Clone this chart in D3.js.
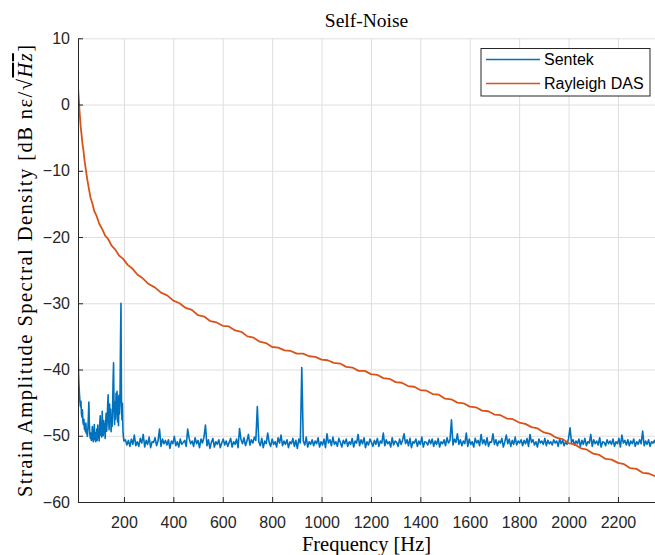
<!DOCTYPE html>
<html>
<head>
<meta charset="utf-8">
<script src="https://cdnjs.cloudflare.com/ajax/libs/d3/7.8.5/d3.min.js"></script>
<style>
body { margin: 0; background: #fff; }
svg { display: block; }
</style>
</head>
<body>
<svg id="chart"></svg>
<script>
// axis ticks
var xTicks = [200, 400, 600, 800, 1000, 1200, 1400, 1600, 1800, 2000, 2200];
var yTicks = [10, 0, -10, -20, -30, -40, -50, -60];

// Sentek, low band: one value every 2 Hz from 14 to 200 Hz
var sentekLowStart = 14, sentekLowStep = 2;
var sentekLowDb = [
  -36.0, -40.5, -42.3, -43.8, -44.9, -45.6, -44.8, -46.7, -47.2, -46.1, -47.9, -48.3, -47.5, -49.0, -48.6, -49.4, -48.1, -49.7, -49.2, -50.1,
  -49.0, -47.3, -44.9, -48.2, -49.8, -50.4, -49.6, -50.7, -50.2, -48.6, -50.5, -50.9, -49.8, -48.3, -50.6, -49.5, -50.9, -50.1, -49.0, -50.7,
  -48.4, -50.3, -49.6, -50.8, -48.1, -47.0, -49.9, -48.4, -50.2, -46.3, -48.8, -50.0, -47.7, -49.5, -48.2, -50.4, -47.9, -46.6, -49.3, -48.0,
  -45.5, -43.8, -47.4, -49.1, -45.2, -47.8, -46.0, -49.4, -47.3, -48.6, -45.9, -41.8, -39.0, -46.2, -48.3, -44.9, -47.5, -43.6, -46.8, -43.3,
  -47.9, -44.2, -48.5, -43.9, -46.7, -44.5, -36.0, -30.0, -44.8, -47.6, -45.1, -49.3, -50.2, -50.8
];

// Sentek, rest: one value every 6 Hz from 206 Hz
var sentekHighStart = 206, sentekHighStep = 6;
var sentekHighDb = [
  -50.6, -51.4, -50.7, -51.6, -50.5, -51.3, -49.9, -51.5,
  -50.9, -51.6, -50.4, -51.1, -49.8, -51.7, -50.7, -51.3, -50.2, -51.8, -50.9, -51.0, -50.3, -51.5, -50.8, -49.0, -51.6, -50.5, -51.2, -50.7,
  -51.4, -50.6, -51.9, -50.8, -51.2, -50.1, -51.5, -50.9, -51.7, -50.5, -51.3, -51.0, -50.7, -51.6, -49.0, -50.4, -51.2, -50.8, -51.6, -50.3,
  -51.2, -50.7, -51.8, -50.5, -51.1, -50.2, -48.4, -51.5, -50.6, -51.9, -51.0, -50.4, -51.7, -50.9, -51.3, -50.6, -51.8, -51.1, -50.5, -51.4,
  -50.8, -51.6, -51.0, -50.4, -51.7, -50.9, -51.3, -50.5, -51.8, -48.9, -50.6, -51.2, -50.3, -51.5, -50.8, -49.8, -51.4, -50.6, -51.1, -50.2,
  -50.7, -45.6, -50.9, -51.5, -50.4, -51.8, -50.8, -51.2, -49.6, -51.0, -51.6, -50.5, -51.3, -50.9, -51.7, -50.3, -51.1, -49.9, -51.5, -50.8,
  -51.3, -50.6, -51.8, -50.9, -51.2, -50.4, -51.6, -50.7, -51.9, -50.5, -51.1, -39.7, -50.8, -51.4, -50.2, -51.7, -50.9, -51.3, -50.6, -51.5,
  -50.8, -51.2, -50.3, -51.7, -50.9, -51.4, -50.5, -51.8, -49.7, -51.1, -50.6, -51.5, -50.2, -51.3, -50.9, -51.6, -50.4, -51.0, -51.7, -50.7,
  -51.2, -50.5, -51.6, -50.9, -51.3, -50.4, -51.7, -50.8, -51.1, -49.8, -51.5, -50.6, -51.2, -50.3, -51.8, -50.9, -51.4, -50.5, -51.0, -51.6,
  -50.7, -51.3, -50.4, -51.6, -50.8, -51.1, -49.6, -51.5, -50.6, -51.2, -50.9, -51.7, -50.3, -51.4, -50.8, -51.0, -51.6, -50.5, -51.3, -50.7,
  -49.7, -51.2, -50.6, -51.5, -50.4, -51.8, -50.9, -51.1, -50.5, -51.6, -50.8, -51.3, -50.2, -51.7, -50.9, -51.0, -51.4, -50.6, -51.2, -50.5,
  -51.6, -50.8, -51.3, -50.4, -51.7, -50.9, -51.2, -50.6, -51.5, -50.3, -51.1, -50.7, -47.6, -51.4, -50.5, -51.0, -49.7, -51.3, -50.6, -51.5,
  -50.8, -51.2, -49.6, -51.6, -50.5, -51.3, -50.9, -51.7, -50.4, -51.1, -50.7, -51.5, -49.8, -51.2, -50.6, -51.4, -50.3, -51.6, -50.9, -51.0,
  -49.7, -51.3, -50.6, -51.5, -50.8, -51.1, -50.4, -51.7, -50.9, -49.9, -51.2, -50.5, -51.6, -50.7, -51.3, -50.2, -51.4, -50.8, -51.1, -50.6,
  -51.5, -50.7, -51.2, -50.4, -51.6, -49.8, -51.0, -50.6, -51.4, -50.9, -51.7, -50.5, -51.1, -50.8, -51.3, -50.4, -51.5, -50.7, -51.2, -50.9,
  -51.4, -50.6, -51.1, -50.8, -51.6, -50.5, -51.2, -50.7, -51.5, -50.9, -51.3, -50.4, -48.8, -51.0, -50.6, -51.4, -50.8, -51.2, -50.5, -51.6,
  -50.7, -51.3, -50.4, -51.5, -50.9, -51.1, -49.8, -51.6, -50.6, -51.2, -50.8, -51.4, -50.3, -51.7, -50.9, -51.0, -51.5, -50.6, -51.2, -50.8,
  -51.3, -50.5, -51.6, -50.9, -51.2, -50.4, -51.7, -49.9, -51.1, -50.7, -51.4, -50.6, -51.5, -50.8, -51.2, -50.5, -51.6, -50.9, -51.3, -50.6,
  -51.2, -49.3, -51.5, -50.8, -51.3, -50.6, -51.6, -50.9, -51.1, -50.7, -51.4
];

// Rayleigh DAS
var dasFreq = [
  14, 16, 18, 20, 22, 25, 28, 32, 36, 40, 46, 52, 58, 65, 72, 80, 90, 100, 112, 124,
  136, 150, 165, 180, 197, 215, 235, 255, 275, 300, 325, 350, 375, 400, 425, 450, 475, 500, 525, 550,
  575, 600, 625, 650, 675, 700, 725, 750, 775, 800, 825, 850, 875, 900, 925, 950, 975, 1000, 1025, 1050,
  1075, 1100, 1125, 1150, 1175, 1200, 1225, 1250, 1275, 1300, 1325, 1350, 1375, 1400, 1425, 1450, 1475, 1500, 1525, 1550,
  1575, 1600, 1625, 1650, 1675, 1700, 1725, 1750, 1775, 1800, 1825, 1850, 1875, 1900, 1925, 1950, 1975, 2000, 2025, 2050,
  2075, 2100, 2125, 2150, 2175, 2200, 2225, 2250, 2275, 2300, 2325, 2350
];
var dasDb = [
  2.7, 1.5, 0.5, -0.9, -1.9, -3.4, -4.4, -5.9, -6.9, -8.3, -9.9, -11.4, -12.7, -14.1, -14.9, -16.1, -16.9, -18.0, -18.8, -19.8,
  -20.3, -21.3, -21.9, -22.8, -23.3, -24.2, -24.8, -25.7, -26.2, -27.1, -27.6, -28.4, -28.8, -29.6, -30.0, -30.7, -31.0, -31.8, -32.0, -32.7,
  -32.9, -33.4, -33.5, -34.1, -34.3, -35.0, -35.2, -35.8, -36.0, -36.6, -36.7, -37.1, -37.2, -37.6, -37.6, -38.0, -38.1, -38.5, -38.6, -39.0,
  -39.1, -39.6, -39.7, -40.2, -40.2, -40.7, -40.8, -41.3, -41.4, -41.9, -42.0, -42.5, -42.6, -43.1, -43.2, -43.7, -43.8, -44.4, -44.5, -45.0,
  -45.1, -45.6, -45.7, -46.2, -46.3, -46.8, -46.9, -47.4, -47.5, -48.0, -48.2, -48.7, -48.9, -49.5, -49.7, -50.3, -50.5, -51.1, -51.3, -51.9,
  -52.1, -52.7, -52.9, -53.5, -53.6, -54.1, -54.3, -54.9, -55.0, -55.6, -55.7, -56.1
];

var seriesNames = ["Sentek", "Rayleigh DAS"];
var seriesColors = ["#0072bd", "#d95319"];

function drawChart(svg, width, height){

	svg.attr('width', width).attr('height', height);

	var left = 78, right = 655, top = 38.3, bottom = 502;
	var textColor = "#262626";

	var x = d3.scaleLinear().domain([14, 2350]).range([left, right]);
	var y = d3.scaleLinear().domain([-60, 10]).range([bottom, top]);

	svg.append("defs").append("clipPath").attr("id", "plotClip")
	  .append("rect")
	    .attr("x", left).attr("y", top - 2)
	    .attr("width", right - left).attr("height", bottom - top + 2);

	// grid
	svg.append("g")
	    .attr("transform", "translate(0," + bottom + ")")
	    .call(d3.axisBottom(x).tickValues(xTicks).tickSize(-(bottom - top)).tickFormat(""))
	    .call(function(g) { g.select(".domain").remove(); })
	    .selectAll("line").attr("stroke", "#dfdfdf");

	svg.append("g")
	    .attr("transform", "translate(" + left + ",0)")
	    .call(d3.axisLeft(y).tickValues(yTicks).tickSize(-(right - left)).tickFormat(""))
	    .call(function(g) { g.select(".domain").remove(); })
	    .selectAll("line").attr("stroke", "#dfdfdf");

	// series
	var sentek = sentekLowDb.map(function(v, i) { return [sentekLowStart + i * sentekLowStep, v]; })
	    .concat(sentekHighDb.map(function(v, i) { return [sentekHighStart + i * sentekHighStep, v]; }));
	var das = dasFreq.map(function(f, i) { return [f, dasDb[i]]; });

	var line = d3.line()
	    .x(function(d) { return x(d[0]); })
	    .y(function(d) { return y(d[1]); });

	var plot = svg.append("g").attr("clip-path", "url(#plotClip)");

	plot.append("path")
	    .datum(sentek)
	    .attr("fill", "none")
	    .attr("stroke", seriesColors[0])
	    .attr("stroke-width", 1.6)
	    .attr("stroke-linejoin", "round")
	    .attr("d", line);

	plot.append("path")
	    .datum(das)
	    .attr("fill", "none")
	    .attr("stroke", seriesColors[1])
	    .attr("stroke-width", 1.8)
	    .attr("stroke-linejoin", "round")
	    .attr("d", line);

	// axes
	var fmt = d3.format("d");
	var xAxis = svg.append("g")
	    .attr("transform", "translate(0," + bottom + ")")
	    .call(d3.axisBottom(x).tickValues(xTicks).tickFormat(fmt).tickSizeInner(-5).tickSizeOuter(0).tickPadding(15));

	var yAxis = svg.append("g")
	    .attr("transform", "translate(" + left + ",0)")
	    .call(d3.axisLeft(y).tickValues(yTicks).tickFormat(fmt).tickSizeInner(-5).tickSizeOuter(0).tickPadding(8));

	[xAxis, yAxis].forEach(function(a) {
	  a.select(".domain").attr("stroke", textColor);
	  a.selectAll(".tick line").attr("stroke", textColor);
	  a.selectAll(".tick text")
	      .attr("fill", textColor)
	      .style("font-family", "'Liberation Sans', Arial, sans-serif")
	      .style("font-size", "16px");
	});

	// title and labels
	svg.append("text")
	    .attr("x", (left + right) / 2).attr("y", 27)
	    .attr("text-anchor", "middle")
	    .style("font-family", "'Liberation Serif', 'DejaVu Serif', serif")
	    .style("font-size", "19.5px")
	    .attr("fill", "#000")
	    .text("Self-Noise");

	svg.append("text")
	    .attr("x", (left + right) / 2).attr("y", 551)
	    .attr("text-anchor", "middle")
	    .style("font-family", "'Liberation Serif', 'DejaVu Serif', serif")
	    .style("font-size", "20.5px")
	    .attr("fill", "#000")
	    .text("Frequency [Hz]");

	var yLabel = svg.append("text")
	    .attr("transform", "translate(32," + 271 + ") rotate(-90)")
	    .attr("text-anchor", "middle")
	    .attr("textLength", 452)
	    .attr("lengthAdjust", "spacing")
	    .style("font-family", "'Liberation Serif', 'DejaVu Serif', serif")
	    .style("font-size", "20.5px")
	    .attr("fill", "#000");
	yLabel.append("tspan").text("Strain Amplitude Spectral Density [dB n\u03b5/\u221a");
	yLabel.append("tspan")
	    .style("font-style", "italic")
	    .style("text-decoration", "overline")
	    .text("Hz");
	yLabel.append("tspan").text("]");

	// legend
	var legend = svg.append("g");
	legend.append("rect")
	    .attr("x", 481).attr("y", 48.5)
	    .attr("width", 169).attr("height", 47.5)
	    .attr("fill", "#fff")
	    .attr("stroke", textColor)
	    .attr("stroke-width", 1);

	seriesNames.forEach(function(name, i) {
	  var ly = 59.5 + i * 24;
	  legend.append("line")
	      .attr("x1", 486).attr("x2", 540)
	      .attr("y1", ly).attr("y2", ly)
	      .attr("stroke", seriesColors[i])
	      .attr("stroke-width", 1.3);
	  legend.append("text")
	      .attr("x", 544).attr("y", ly)
	      .attr("dy", "0.35em")
	      .style("font-family", "'Liberation Sans', Arial, sans-serif")
	      .style("font-size", "16px")
	      .attr("fill", "#000")
	      .text(name);
	});
}

drawChart(d3.select("#chart"), 655, 555);
</script>
</body>
</html>
